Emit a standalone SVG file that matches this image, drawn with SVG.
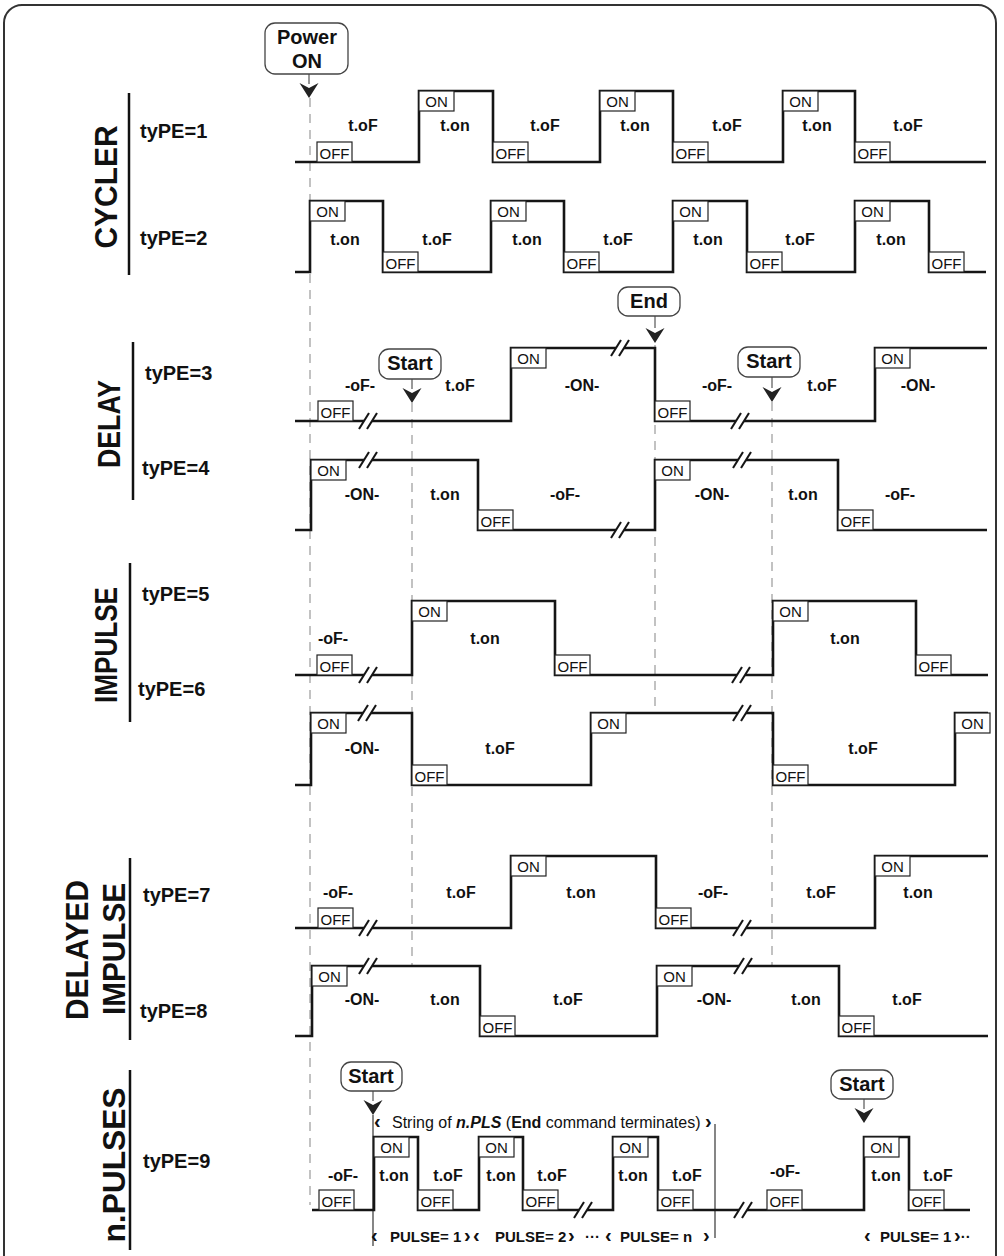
<svg xmlns="http://www.w3.org/2000/svg" xmlns:xlink="http://www.w3.org/1999/xlink" width="1004" height="1256" viewBox="0 0 1004 1256">
<style>
text{font-family:"Liberation Sans",Arial,sans-serif;fill:#111}
.wave{fill:none;stroke:#151515;stroke-width:2.6;stroke-linejoin:miter;stroke-linecap:butt}
.bx rect{fill:#fff;stroke:#222;stroke-width:1.2}
.bx text{font-size:15px;text-anchor:middle}
.lb{font-size:16px;font-weight:bold;text-anchor:middle}
.ty{font-size:20px;font-weight:bold}
.sec{font-size:31px;font-weight:bold;text-anchor:middle}
.sep{stroke:#111;stroke-width:2.5}
.dash{stroke:#9a9a9a;stroke-width:1.2;stroke-dasharray:9 7;fill:none}
.call rect{fill:#fff;stroke:#444;stroke-width:1.3}
.call text{font-size:20px;font-weight:bold;text-anchor:middle}
.stem{stroke:#555;stroke-width:1.2}
.thin{stroke:#222;stroke-width:1.1}
.pl{font-size:15px;font-weight:bold}
.ch{font-size:20px;font-weight:bold}
</style>
<defs>
<g id="brk"><polygon points="-9,8 -1,8 9,-8 1,-8" fill="#fff"/><line x1="-9" y1="8" x2="1" y2="-8" stroke="#151515" stroke-width="2"/><line x1="-1" y1="8" x2="9" y2="-8" stroke="#151515" stroke-width="2"/></g>
<path id="ah" d="M-9.5,0 L0,5 L9.5,0 L0,15 Z" fill="#222"/>
</defs>
<rect x="4" y="5" width="992" height="1300" rx="18" fill="#fff" stroke="#333" stroke-width="2"/>

<g id="connectors">
<line class="dash" x1="310" y1="98" x2="310" y2="1205"/>
<line class="dash" x1="412" y1="403" x2="412" y2="966"/>
<line class="dash" x1="655" y1="345" x2="655" y2="713"/>
<line class="dash" x1="772" y1="402" x2="772" y2="965"/>
<line class="stem" x1="309" y1="74" x2="309" y2="84"/><use href="#ah" x="309" y="83"/>
<line class="stem" x1="655" y1="316" x2="655" y2="328"/><use href="#ah" x="655" y="328"/>
<line class="stem" x1="412" y1="379" x2="412" y2="389"/><use href="#ah" x="412" y="388"/>
<line class="stem" x1="772" y1="377" x2="772" y2="388"/><use href="#ah" x="772" y="387"/>
<line class="stem" x1="373" y1="1091" x2="373" y2="1101"/><use href="#ah" x="373" y="1100"/>
<line class="stem" x1="864" y1="1099" x2="864" y2="1109"/><use href="#ah" x="864" y="1108"/>
<line class="thin" x1="373" y1="1115" x2="373" y2="1246"/>
<line class="thin" x1="715" y1="1124" x2="715" y2="1238"/>
</g>

<g id="callout-power" class="call"><rect x="265" y="23" width="83" height="51" rx="10"/><text x="307" y="44">Power</text><text x="307" y="68">ON</text></g>
<g id="callout-end" class="call"><rect x="618" y="287" width="62" height="29" rx="10"/><text x="649" y="308">End</text></g>
<g id="callout-start1" class="call"><rect x="379" y="349" width="62" height="30" rx="10"/><text x="410" y="370">Start</text></g>
<g id="callout-start2" class="call"><rect x="738" y="347" width="62" height="30" rx="10"/><text x="769" y="368">Start</text></g>
<g id="callout-start3" class="call"><rect x="341" y="1062" width="61" height="29" rx="10"/><text x="371" y="1083">Start</text></g>
<g id="callout-start4" class="call"><rect x="831" y="1070" width="62" height="29" rx="10"/><text x="862" y="1091">Start</text></g>

<g id="sections">
<text class="sec" transform="translate(117,187) rotate(-90)" textLength="123" lengthAdjust="spacingAndGlyphs">CYCLER</text>
<line class="sep" x1="129" y1="93" x2="129" y2="275"/>
<text class="sec" transform="translate(120,424) rotate(-90)" textLength="88" lengthAdjust="spacingAndGlyphs">DELAY</text>
<line class="sep" x1="133" y1="342" x2="133" y2="500"/>
<text class="sec" transform="translate(117,645) rotate(-90)" textLength="116" lengthAdjust="spacingAndGlyphs">IMPULSE</text>
<line class="sep" x1="130" y1="563" x2="130" y2="722"/>
<text class="sec" transform="translate(88,950) rotate(-90)" textLength="140" lengthAdjust="spacingAndGlyphs">DELAYED</text>
<text class="sec" transform="translate(125,949) rotate(-90)" textLength="132" lengthAdjust="spacingAndGlyphs">IMPULSE</text>
<line class="sep" x1="130" y1="858" x2="130" y2="1040"/>
<text class="sec" transform="translate(125,1165) rotate(-90)" textLength="155" lengthAdjust="spacingAndGlyphs">n.PULSES</text>
<line class="sep" x1="130" y1="1070" x2="130" y2="1250"/>
</g>

<g id="type1">
<text class="ty" x="140" y="138">tyPE=1</text>
<path class="wave" d="M295,162 H419 V91 H493 V162 H600 V91 H673 V162 H783 V91 H855 V162 H986"/>
<g class="bx"><rect x="317" y="142" width="35" height="20"/><text x="334.5" y="158.5">OFF</text>
<rect x="493" y="142" width="35" height="20"/><text x="510.5" y="158.5">OFF</text>
<rect x="673" y="142" width="35" height="20"/><text x="690.5" y="158.5">OFF</text>
<rect x="855" y="142" width="35" height="20"/><text x="872.5" y="158.5">OFF</text>
<rect x="419" y="91" width="35" height="20"/><text x="436.5" y="106.5">ON</text>
<rect x="600" y="91" width="35" height="20"/><text x="617.5" y="106.5">ON</text>
<rect x="783" y="91" width="35" height="20"/><text x="800.5" y="106.5">ON</text></g>
<text class="lb" x="363" y="131">t.oF</text><text class="lb" x="455" y="131">t.on</text>
<text class="lb" x="545" y="131">t.oF</text><text class="lb" x="635" y="131">t.on</text>
<text class="lb" x="727" y="131">t.oF</text><text class="lb" x="817" y="131">t.on</text>
<text class="lb" x="908" y="131">t.oF</text>
</g>

<g id="type2">
<text class="ty" x="140" y="245">tyPE=2</text>
<path class="wave" d="M295,272 H310 V201 H383 V272 H491 V201 H564 V272 H673 V201 H747 V272 H855 V201 H929 V272 H986"/>
<g class="bx"><rect x="310" y="201" width="35" height="20"/><text x="327.5" y="216.5">ON</text>
<rect x="491" y="201" width="35" height="20"/><text x="508.5" y="216.5">ON</text>
<rect x="673" y="201" width="35" height="20"/><text x="690.5" y="216.5">ON</text>
<rect x="855" y="201" width="35" height="20"/><text x="872.5" y="216.5">ON</text>
<rect x="383" y="252" width="35" height="20"/><text x="400.5" y="268.5">OFF</text>
<rect x="564" y="252" width="35" height="20"/><text x="581.5" y="268.5">OFF</text>
<rect x="747" y="252" width="35" height="20"/><text x="764.5" y="268.5">OFF</text>
<rect x="929" y="252" width="35" height="20"/><text x="946.5" y="268.5">OFF</text></g>
<text class="lb" x="345" y="245">t.on</text><text class="lb" x="437" y="245">t.oF</text>
<text class="lb" x="527" y="245">t.on</text><text class="lb" x="618" y="245">t.oF</text>
<text class="lb" x="708" y="245">t.on</text><text class="lb" x="800" y="245">t.oF</text>
<text class="lb" x="891" y="245">t.on</text>
</g>

<g id="type3">
<text class="ty" x="145" y="380">tyPE=3</text>
<path class="wave" d="M295,421 H511 V348 H655 V421 H875 V348 H987"/>
<use href="#brk" x="368" y="421"/><use href="#brk" x="620" y="348"/><use href="#brk" x="740" y="421"/>
<g class="bx"><rect x="318" y="401" width="35" height="20"/><text x="335.5" y="417.5">OFF</text>
<rect x="655" y="401" width="35" height="20"/><text x="672.5" y="417.5">OFF</text>
<rect x="511" y="348" width="35" height="20"/><text x="528.5" y="363.5">ON</text>
<rect x="875" y="348" width="35" height="20"/><text x="892.5" y="363.5">ON</text></g>
<text class="lb" x="360" y="391">-oF-</text><text class="lb" x="460" y="391">t.oF</text><text class="lb" x="582" y="391">-ON-</text>
<text class="lb" x="717" y="391">-oF-</text><text class="lb" x="822" y="391">t.oF</text><text class="lb" x="918" y="391">-ON-</text>
</g>

<g id="type4">
<text class="ty" x="142" y="475">tyPE=4</text>
<path class="wave" d="M295,530 H311 V460 H478 V530 H655 V460 H838 V530 H987"/>
<use href="#brk" x="368" y="460"/><use href="#brk" x="620" y="530"/><use href="#brk" x="742" y="460"/>
<g class="bx"><rect x="311" y="460" width="35" height="20"/><text x="328.5" y="475.5">ON</text>
<rect x="655" y="460" width="35" height="20"/><text x="672.5" y="475.5">ON</text>
<rect x="478" y="510" width="35" height="20"/><text x="495.5" y="526.5">OFF</text>
<rect x="838" y="510" width="35" height="20"/><text x="855.5" y="526.5">OFF</text></g>
<text class="lb" x="362" y="500">-ON-</text><text class="lb" x="445" y="500">t.on</text><text class="lb" x="565" y="500">-oF-</text>
<text class="lb" x="712" y="500">-ON-</text><text class="lb" x="803" y="500">t.on</text><text class="lb" x="900" y="500">-oF-</text>
</g>

<g id="type5">
<text class="ty" x="142" y="601">tyPE=5</text>
<path class="wave" d="M295,675 H412 V601 H555 V675 H773 V601 H916 V675 H988"/>
<use href="#brk" x="368" y="675"/><use href="#brk" x="741" y="675"/>
<g class="bx"><rect x="317" y="655" width="35" height="20"/><text x="334.5" y="671.5">OFF</text>
<rect x="555" y="655" width="35" height="20"/><text x="572.5" y="671.5">OFF</text>
<rect x="916" y="655" width="35" height="20"/><text x="933.5" y="671.5">OFF</text>
<rect x="412" y="601" width="35" height="20"/><text x="429.5" y="616.5">ON</text>
<rect x="773" y="601" width="35" height="20"/><text x="790.5" y="616.5">ON</text></g>
<text class="lb" x="333" y="644">-oF-</text><text class="lb" x="485" y="644">t.on</text><text class="lb" x="845" y="644">t.on</text>
</g>

<g id="type6">
<text class="ty" x="138" y="696">tyPE=6</text>
<path class="wave" d="M295,785 H311 V713 H412 V785 H591 V713 H773 V785 H955 V713 H988"/>
<use href="#brk" x="367" y="713"/><use href="#brk" x="742" y="713"/>
<g class="bx"><rect x="311" y="713" width="35" height="20"/><text x="328.5" y="728.5">ON</text>
<rect x="591" y="713" width="35" height="20"/><text x="608.5" y="728.5">ON</text>
<rect x="955" y="713" width="35" height="20"/><text x="972.5" y="728.5">ON</text>
<rect x="412" y="765" width="35" height="20"/><text x="429.5" y="781.5">OFF</text>
<rect x="773" y="765" width="35" height="20"/><text x="790.5" y="781.5">OFF</text></g>
<text class="lb" x="362" y="754">-ON-</text><text class="lb" x="500" y="754">t.oF</text><text class="lb" x="863" y="754">t.oF</text>
</g>

<g id="type7">
<text class="ty" x="143" y="902">tyPE=7</text>
<path class="wave" d="M295,928 H511 V856 H656 V928 H875 V856 H988"/>
<use href="#brk" x="368" y="928"/><use href="#brk" x="742" y="928"/>
<g class="bx"><rect x="318" y="908" width="35" height="20"/><text x="335.5" y="924.5">OFF</text>
<rect x="656" y="908" width="35" height="20"/><text x="673.5" y="924.5">OFF</text>
<rect x="511" y="856" width="35" height="20"/><text x="528.5" y="871.5">ON</text>
<rect x="875" y="856" width="35" height="20"/><text x="892.5" y="871.5">ON</text></g>
<text class="lb" x="338" y="898">-oF-</text><text class="lb" x="461" y="898">t.oF</text><text class="lb" x="581" y="898">t.on</text>
<text class="lb" x="713" y="898">-oF-</text><text class="lb" x="821" y="898">t.oF</text><text class="lb" x="918" y="898">t.on</text>
</g>

<g id="type8">
<text class="ty" x="140" y="1018">tyPE=8</text>
<path class="wave" d="M295,1036 H312 V966 H480 V1036 H657 V966 H839 V1036 H988"/>
<use href="#brk" x="368" y="966"/><use href="#brk" x="743" y="966"/>
<g class="bx"><rect x="312" y="966" width="35" height="20"/><text x="329.5" y="981.5">ON</text>
<rect x="657" y="966" width="35" height="20"/><text x="674.5" y="981.5">ON</text>
<rect x="480" y="1016" width="35" height="20"/><text x="497.5" y="1032.5">OFF</text>
<rect x="839" y="1016" width="35" height="20"/><text x="856.5" y="1032.5">OFF</text></g>
<text class="lb" x="362" y="1005">-ON-</text><text class="lb" x="445" y="1005">t.on</text><text class="lb" x="568" y="1005">t.oF</text>
<text class="lb" x="714" y="1005">-ON-</text><text class="lb" x="806" y="1005">t.on</text><text class="lb" x="907" y="1005">t.oF</text>
</g>

<g id="type9">
<text class="ty" x="143" y="1168">tyPE=9</text>
<path class="wave" d="M312,1210 H374 V1137 H418 V1210 H479 V1137 H523 V1210 H613 V1137 H658 V1210 H864 V1137 H909 V1210 H970"/>
<use href="#brk" x="583" y="1210"/><use href="#brk" x="743" y="1210"/>
<g class="bx"><rect x="319" y="1190" width="35" height="20"/><text x="336.5" y="1206.5">OFF</text>
<rect x="418" y="1190" width="35" height="20"/><text x="435.5" y="1206.5">OFF</text>
<rect x="523" y="1190" width="35" height="20"/><text x="540.5" y="1206.5">OFF</text>
<rect x="658" y="1190" width="35" height="20"/><text x="675.5" y="1206.5">OFF</text>
<rect x="767" y="1190" width="35" height="20"/><text x="784.5" y="1206.5">OFF</text>
<rect x="909" y="1190" width="35" height="20"/><text x="926.5" y="1206.5">OFF</text>
<rect x="374" y="1137" width="35" height="20"/><text x="391.5" y="1152.5">ON</text>
<rect x="479" y="1137" width="35" height="20"/><text x="496.5" y="1152.5">ON</text>
<rect x="613" y="1137" width="35" height="20"/><text x="630.5" y="1152.5">ON</text>
<rect x="864" y="1137" width="35" height="20"/><text x="881.5" y="1152.5">ON</text></g>
<text class="lb" x="343" y="1181">-oF-</text><text class="lb" x="394" y="1181">t.on</text><text class="lb" x="448" y="1181">t.oF</text>
<text class="lb" x="501" y="1181">t.on</text><text class="lb" x="552" y="1181">t.oF</text>
<text class="lb" x="633" y="1181">t.on</text><text class="lb" x="687" y="1181">t.oF</text>
<text class="lb" x="785" y="1177">-oF-</text><text class="lb" x="886" y="1181">t.on</text><text class="lb" x="938" y="1181">t.oF</text>
<text y="1128" font-size="16"><tspan class="ch" x="374">‹</tspan><tspan x="392">String of </tspan><tspan font-weight="bold" font-style="italic">n.PLS</tspan> (<tspan font-weight="bold">End</tspan> command terminates) <tspan class="ch">›</tspan></text>
<text class="pl" y="1242"><tspan class="ch" x="371">‹</tspan><tspan x="390">PULSE= 1</tspan><tspan class="ch" x="464">›</tspan><tspan class="ch" x="473">‹</tspan><tspan x="495">PULSE= 2</tspan><tspan class="ch" x="568">›</tspan><tspan x="585">···</tspan><tspan class="ch" x="605">‹</tspan><tspan x="620">PULSE= n</tspan><tspan class="ch" x="703">›</tspan></text>
<text class="pl" y="1242"><tspan class="ch" x="864">‹</tspan><tspan x="880">PULSE= 1</tspan><tspan class="ch" x="954">›</tspan><tspan>··</tspan></text>
</g>
</svg>
